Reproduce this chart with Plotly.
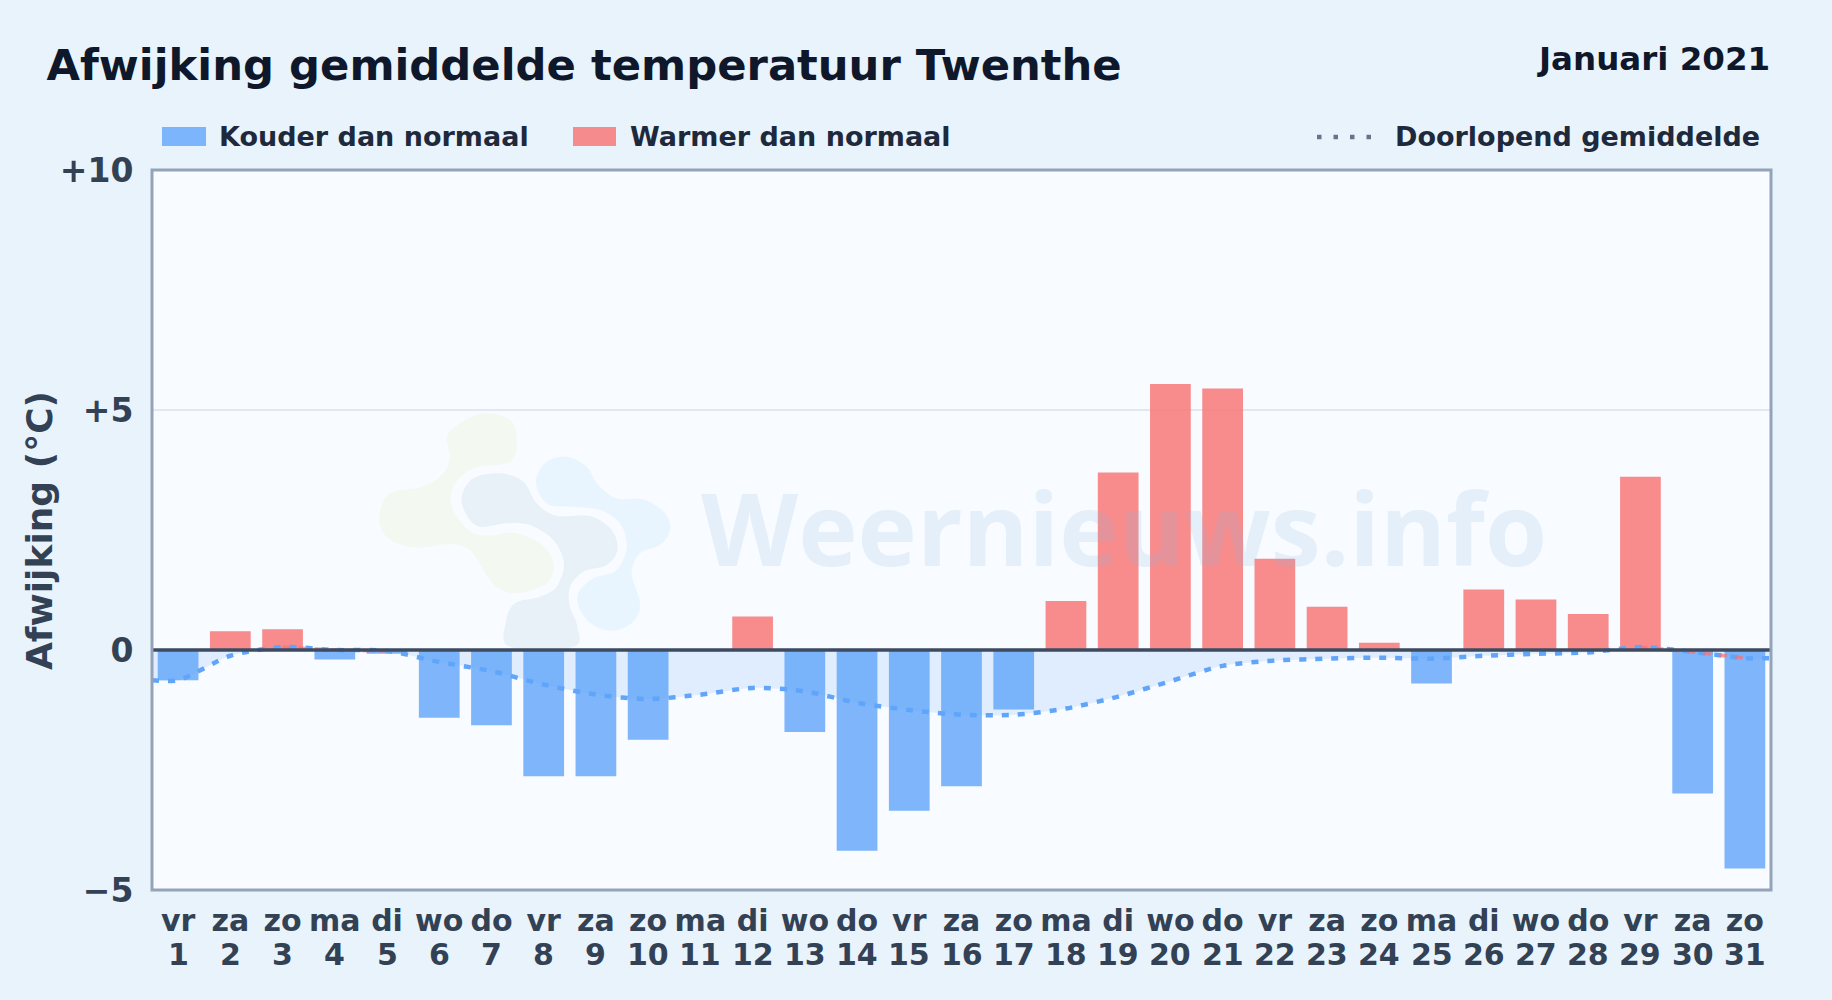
import plotly.graph_objects as go

W, H = 1832, 1000
FONT = "DejaVu Sans"

days = list(range(1, 32))
weekdays = ["vr","za","zo","ma","di","wo","do","vr","za","zo","ma","di","wo","do","vr","za","zo",
            "ma","di","wo","do","vr","za","zo","ma","di","wo","do","vr","za","zo"]
anomaly = [-0.63,0.39,0.43,-0.20,-0.08,-1.41,-1.57,-2.63,-2.63,-1.87,-0.03,0.70,-1.71,-4.18,-3.35,-2.84,
           -1.24,1.02,3.70,5.54,5.45,1.90,0.90,0.15,-0.70,1.26,1.05,0.75,3.61,-2.99,-4.55]
mean_x = [0.5] + days + [31.5]
mean_y = [-0.63,-0.63,-0.12,0.06,0.0,-0.02,-0.25,-0.44,-0.72,-0.93,-1.02,-0.93,-0.79,-0.86,-1.10,-1.25,-1.35,
          -1.35,-1.22,-0.97,-0.65,-0.33,-0.22,-0.18,-0.16,-0.18,-0.12,-0.08,-0.05,0.06,-0.04,-0.17,-0.17]
y_ticks = [-5, 0, 5, 10]
y_labels = ["\u22125", "0", "+5", "+10"]

L, R, T, B = 152, 1771, 170, 890

def px(x): return (x - L) / (R - L)
def py(y): return (B - y) / (B - T)

def blob(points, ox=340, oy=390, k=3):
    pts = [(ox + a / k, oy + b / k) for a, b in points]
    n = len(pts)
    d = f"M{px(pts[0][0]):.5f},{py(pts[0][1]):.5f}"
    for i in range(n):
        p0, p1, p2, p3 = pts[i - 1], pts[i], pts[(i + 1) % n], pts[(i + 2) % n]
        c1 = (p1[0] + (p2[0] - p0[0]) / 6, p1[1] + (p2[1] - p0[1]) / 6)
        c2 = (p2[0] - (p3[0] - p1[0]) / 6, p2[1] - (p3[1] - p1[1]) / 6)
        d += f" C{px(c1[0]):.5f},{py(c1[1]):.5f} {px(c2[0]):.5f},{py(c2[1]):.5f} {px(p2[0]):.5f},{py(p2[1]):.5f}"
    return d + " Z"

logo_green = [(325,130),(420,72),(510,90),(530,150),(510,215),(400,235),(340,290),(335,350),(385,420),(440,437),
              (520,428),(600,460),(640,520),(620,580),(530,610),(470,590),(430,540),(390,480),(330,462),(220,472),
              (140,440),(118,380),(150,310),(250,290),(310,250),(330,200)]
logo_grey = [(365,320),(400,265),(480,250),(550,275),(590,340),(650,378),(750,378),(815,420),(832,480),(800,525),
             (730,545),(690,590),(690,650),(712,710),(700,770),(510,770),(497,700),(525,640),(600,620),(650,590),
             (672,520),(640,450),(570,405),(500,400),(420,410),(380,375)]
logo_blue = [(590,260),(620,215),(680,200),(740,230),(775,285),(830,325),(910,328),(975,370),(990,420),(960,465),
             (900,490),(875,550),(900,640),(880,695),(820,722),(760,705),(720,660),(715,610),(760,565),(830,540),
             (860,470),(840,400),(780,360),(700,350),(630,345),(595,305)]

BLUE = "rgba(96,165,250,0.8)"
RED = "rgba(248,113,113,0.8)"
LINE_BLUE = "#60a5fa"
LINE_RED = "#f87171"

fig = go.Figure()
fig.add_bar(x=days, y=anomaly, width=0.78,
            marker=dict(color=[RED if v > 0 else BLUE for v in anomaly], line_width=0),
            showlegend=False, hoverinfo="x+y")
fig.add_scatter(x=mean_x, y=mean_y, mode="lines", fill="tozeroy", fillcolor="rgba(96,165,250,0.16)",
                line=dict(color=LINE_BLUE, width=4.5, dash="7px,9px", shape="spline", smoothing=0.8),
                showlegend=False, hoverinfo="skip")
# stretches above zero fade to red on their way down
for a, b in [(3, 5), (29, 31)]:
    fig.add_scatter(x=mean_x[a:b + 1], y=mean_y[a:b + 1], mode="lines",
                    line=dict(color=LINE_RED, width=3.5, dash="7px,9px"),
                    opacity=0.7, showlegend=False, hoverinfo="skip")

shapes = [
    dict(type="path", path=blob(logo_green), xref="paper", yref="paper", fillcolor="#f3f8f0", line_width=0, layer="below"),
    dict(type="path", path=blob(logo_grey), xref="paper", yref="paper", fillcolor="#e8f0f8", line_width=0, layer="below"),
    dict(type="path", path=blob(logo_blue), xref="paper", yref="paper", fillcolor="#e9f5fe", line_width=0, layer="below"),
    dict(type="line", xref="paper", yref="y", x0=0, x1=1, y0=0, y1=0, line=dict(color="#3d4b60", width=3.5), layer="above"),
    dict(type="rect", xref="paper", yref="paper", x0=0, x1=1, y0=0, y1=1, line=dict(color="#94a3b8", width=3),
         fillcolor="rgba(0,0,0,0)", layer="above"),
    dict(type="rect", xref="paper", yref="paper", x0=px(162), x1=px(206), y0=py(127), y1=py(146), fillcolor=BLUE, line_width=0),
    dict(type="rect", xref="paper", yref="paper", x0=px(573), x1=px(616), y0=py(127), y1=py(146), fillcolor=RED, line_width=0),
    dict(type="line", xref="paper", yref="paper", x0=px(1317), x1=px(1375), y0=py(137), y1=py(137),
         line=dict(color="#64748b", width=4.5, dash="4.5px,12px")),
]

def note(text, x, y, size, color, anchor="left", **kw):
    return dict(text=text, x=px(x), y=py(y), xref="paper", yref="paper", showarrow=False, xanchor=anchor,
                yanchor="middle", font=dict(family=FONT, size=size, color=color, weight="bold"), **kw)

annotations = [
    note("Januari 2021", 1772, 59, 32.5, "#0f172a", anchor="right"),
    note("Kouder dan normaal", 217, 137, 27, "#1e293b"),
    note("Warmer dan normaal", 628, 137, 27, "#1e293b"),
    note("Doorlopend gemiddelde", 1393, 137, 27, "#1e293b"),
    note("Afwijking (°C)", 39, 530, 36, "#334155", anchor="center", textangle=-90),
    dict(text="Weernieuws.info", x=px(1124), y=py(527), xref="paper", yref="paper", showarrow=False,
         xanchor="center", yanchor="middle",
         font=dict(family="Open Sans", size=100.5, color="rgba(130,185,225,0.17)", weight="bold")),
]
for d in days:
    annotations.append(dict(text=str(d), x=d, y=py(955), xref="x", yref="paper", showarrow=False,
                            xanchor="center", yanchor="middle",
                            font=dict(family=FONT, size=30, color="#334155", weight="bold")))

fig.update_layout(
    width=W, height=H, autosize=False,
    margin=dict(l=L, r=W - R, t=T, b=H - B, pad=0),
    paper_bgcolor="#e8f3fc", plot_bgcolor="#f8fbff",
    bargap=0.22,
    title=dict(text="Afwijking gemiddelde temperatuur Twenthe", x=46.5 / W, xref="container", xanchor="left",
               y=1 - 65 / H, yref="container", yanchor="middle",
               font=dict(family=FONT, size=43.3, color="#0f172a", weight="bold")),
    xaxis=dict(range=[0.5, 31.5], tickmode="array", tickvals=days, ticktext=weekdays, showgrid=False, zeroline=False,
               showline=False,
               ticks="outside", ticklen=4, tickcolor="rgba(0,0,0,0)",
               tickfont=dict(family=FONT, size=30, color="#334155", weight="bold"), tickangle=0),
    yaxis=dict(range=[-5, 10], tickmode="array", tickvals=y_ticks, ticktext=y_labels, showgrid=True,
               gridcolor="#e2e8f0", gridwidth=1.5, zeroline=False,
               showline=False,
               ticks="outside", ticklen=11, tickcolor="rgba(0,0,0,0)",
               tickfont=dict(family=FONT, size=33, color="#334155", weight="bold")),
    shapes=shapes, annotations=annotations,
)

fig.write_html("out.html", config=dict(displayModeBar=False),
               post_script="document.body.style.margin='0';document.body.style.overflow='hidden';")
